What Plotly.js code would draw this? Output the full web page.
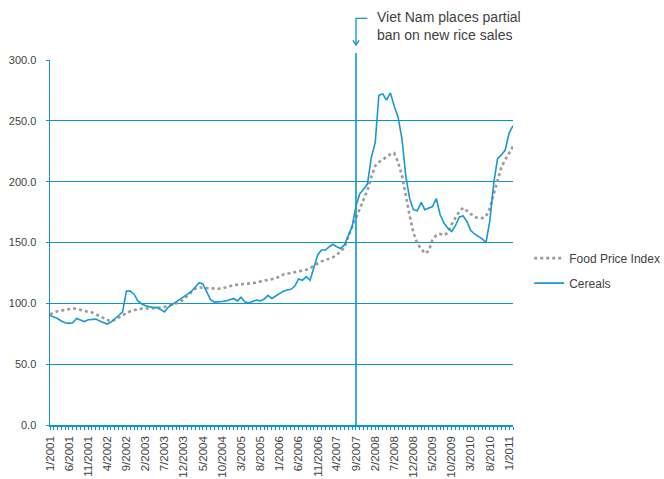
<!DOCTYPE html>
<html>
<head>
<meta charset="utf-8">
<script src="https://cdn.plot.ly/plotly-3.0.1.min.js"></script>
<style>html,body{margin:0;padding:0;background:#fff;}#chart{width:664px;height:479px;}</style>
</head>
<body>
<div id="chart"></div>
<script>
// Monthly data, January 2001 (index 0) to February 2011
var startYear = 2001, startMonth = 1;
var foodPriceIndex = [
  91, 92.5, 93.5, 94, 94.5, 95, 95.8, 95.5, 94.5, 94, 93, 92.5,
  91, 89.5, 88, 86.5, 85, 86.5, 88.5, 90.5, 92, 93.5, 94.5, 95.2,
  95.6, 96, 96, 96, 96, 96.5, 97, 98, 99, 100, 101, 103.5,
  106.5, 109.5, 112, 113, 113, 112.5, 112.3, 112, 112, 112.3, 113, 114,
  115, 115.3, 115.7, 116, 116.2, 116.4, 117, 118, 118.5, 119, 119.5, 120.5,
  122, 123.8, 124.3, 125, 125.5, 126.5, 127, 127.5, 129, 131, 133, 134.5,
  135.6, 136.5, 137.8, 140, 142.5, 146, 155, 163, 170, 178, 186, 193,
  204, 213, 216, 218, 220, 222.5, 223.5, 216, 205, 188, 172, 158,
  149, 145, 141, 143, 152, 156, 157, 156, 158, 165, 171, 175.5,
  178.5, 176, 173, 171, 170, 170, 171.5, 178, 190, 201, 212, 218,
  224, 229
];
var cereals = [
  90, 89, 87.5, 85.5, 84, 83.5, 84, 87.5, 86.5, 85, 86.5, 87,
  87, 85.5, 84.5, 83, 84.5, 87, 90, 93, 110, 110, 107.5, 102,
  99.5, 98, 97, 96.5, 96.7, 95, 93, 97, 99, 101, 103, 105,
  107.5, 110, 113.5, 117, 116, 110, 103, 101, 101, 101.5, 102, 103,
  104, 102, 105, 101, 100.5, 101.5, 102.7, 102, 103.5, 106.5, 104, 106,
  108, 110, 111, 111.5, 114, 120, 119, 122, 119, 130, 140, 143.8,
  143.8, 146.5, 148.5, 146.5, 145, 148, 155, 163, 180, 190, 194, 198,
  220, 232, 271, 272, 267, 273, 262, 253, 235, 205, 186, 177,
  176, 183, 177, 178, 179.5, 186, 173, 166, 161.7, 159, 164, 171,
  171.8, 167, 160, 157, 155, 153, 150, 168, 199, 219, 222, 226,
  240, 246
];
var tickLabels = ["1/2001","6/2001","11/2001","4/2002","9/2002","2/2003","7/2003","12/2003",
  "5/2004","10/2004","3/2005","8/2005","1/2006","6/2006","11/2006","4/2007","9/2007",
  "2/2008","7/2008","12/2008","5/2009","10/2009","3/2010","8/2010","1/2011"];
var eventDate = "9/2007";
var eventText = "Viet Nam places partial<br>ban on new rice sales";

function labelToDate(s){ var p = s.split("/"); var m = p[0].length<2 ? "0"+p[0] : p[0]; return p[1]+"-"+m+"-01"; }
function monthDate(i){ var m = startMonth - 1 + i; var y = startYear + Math.floor(m/12); var mm = (m%12)+1; return y+"-"+(mm<10?"0"+mm:mm)+"-01"; }
var nMax = Math.max(foodPriceIndex.length, cereals.length);
var months = []; for (var i=0;i<nMax;i++) months.push(monthDate(i));
var tickVals = tickLabels.map(labelToDate);

var blue = "#0d96cb";
var textCol = "#3f3f3f";
var font = "Liberation Sans, Arial, sans-serif";

var traces = [
  {x: months.slice(0, foodPriceIndex.length), y: foodPriceIndex, type: "scatter", mode: "lines",
   name: "Food Price Index", legendgroup: "a",
   line: {color: "#9b9b9b", width: 2.6, dash: "dot"}},
  {x: months.slice(0, cereals.length), y: cereals, type: "scatter", mode: "lines",
   name: "Cereals", legendgroup: "b",
   line: {color: "#1899cf", width: 1.6}}
];

var evX = (new Date(labelToDate(eventDate)) - new Date(months[0])) / (new Date(months[nMax-1]) - new Date(months[0]));

var layout = {
  width: 664, height: 479,
  margin: {l: 50, r: 151, t: 60, b: 54},
  paper_bgcolor: "#ffffff", plot_bgcolor: "#ffffff",
  font: {family: font, size: 11, color: textCol},
  showlegend: true,
  legend: {xref: "container", x: 0.797, xanchor: "left", yref: "paper", y: 0.423, yanchor: "middle",
    font: {family: font, size: 12, color: textCol},
    tracegroupgap: 6, bgcolor: "rgba(0,0,0,0)"},
  xaxis: {type: "date", range: [months[0], months[nMax-1]],
    tickmode: "array", tickvals: tickVals, ticktext: tickLabels, tickangle: -90,
    ticks: "outside", ticklen: 3, tickcolor: blue, tickwidth: 1, ticklabelstandoff: 2,
    minor: {tickmode: "linear", tick0: months[0], dtick: "M1", ticks: "outside", ticklen: 3, tickcolor: blue, showgrid: false},
    showgrid: false, showline: true, linecolor: blue, linewidth: 1.5, zeroline: false,
    tickfont: {family: font, size: 11.5, color: textCol}},
  yaxis: {range: [0, 300], dtick: 50, tick0: 0, tickformat: ".1f",
    showgrid: true, gridcolor: blue, gridwidth: 1.2,
    showline: true, linecolor: blue, linewidth: 1.5, zeroline: false,
    ticks: "outside", ticklen: 3, tickcolor: blue, ticklabelstandoff: 7,
    tickfont: {family: font, size: 11, color: textCol}},
  shapes: [
    {type: "line", xref: "x", yref: "paper", x0: labelToDate(eventDate), x1: labelToDate(eventDate), y0: 0, y1: 1.019,
     line: {color: blue, width: 1.6}},
    {type: "path", xref: "paper", yref: "paper",
     path: "M " + (evX + 0.0245) + " 1.114 L " + evX + " 1.114 L " + evX + " 1.041",
     line: {color: blue, width: 1.3}},
    {type: "path", xref: "paper", yref: "paper",
     path: "M " + (evX - 0.0068) + " 1.054 L " + evX + " 1.041 L " + (evX + 0.0068) + " 1.054",
     line: {color: blue, width: 1.3}}
  ],
  annotations: [
    {xref: "paper", yref: "paper", x: evX + 0.041, y: 1.093, xanchor: "left", yanchor: "middle",
     text: eventText, showarrow: false, align: "left",
     font: {family: font, size: 14, color: textCol}}
  ]
};

Plotly.newPlot("chart", traces, layout, {displayModeBar: false, staticPlot: true});
</script>
</body>
</html>
